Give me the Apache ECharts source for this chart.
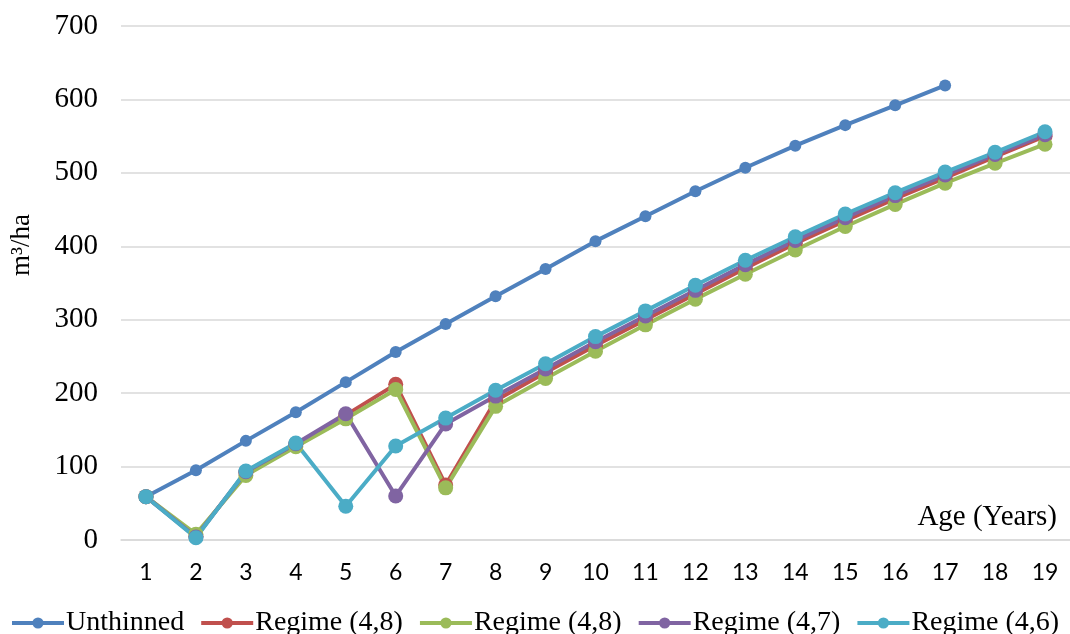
<!DOCTYPE html>
<html>
<head>
<meta charset="utf-8">
<script src="https://cdn.jsdelivr.net/npm/echarts@6/dist/echarts.min.js"></script>
<style>
  html, body { margin: 0; padding: 0; background: #fff; }
  #chart { width: 1070px; height: 634px; }
</style>
</head>
<body>
<div id="chart"></div>
<script>
const ages = ['1', '2', '3', '4', '5', '6', '7', '8', '9', '10', '11', '12', '13', '14', '15', '16', '17', '18', '19']

const unthinned = [59, 95, 135, 174, 215, 256, 294, 332, 369, 407, 441, 475, 507, 537, 565, 592, 619, null, null]
const regime48a = [59, 5, 92, 130, 170, 212, 75, 190, 228, 265, 300, 335, 370, 404, 435, 465, 493, 522, 550]
const regime48b = [59, 8, 88, 127, 165, 205, 71, 182, 220, 257, 293, 328, 362, 395, 427, 457, 486, 513, 539]
const regime47 = [59, 4, 93, 131, 172, 60, 158, 196, 233, 270, 305, 340, 375, 408, 439, 469, 497, 525, 552]
const regime46 = [59, 3, 94, 132, 46, 128, 166, 204, 240, 277, 312, 347, 381, 413, 444, 473, 501, 528, 556]

const seriesNames = ['Unthinned', 'Regime (4,8)', 'Regime (4,8) ', 'Regime (4,7)', 'Regime (4,6)']
const seriesColors = ['#4f81bd', '#c0504d', '#9bbb59', '#8064a2', '#4bacc6']
const seriesData = [unthinned, regime48a, regime48b, regime47, regime46]

const chart = echarts.init(document.getElementById('chart'))

const serif = '"Liberation Serif", "Times New Roman", serif'

const series = seriesData.map((d, i) => ({
  name: seriesNames[i],
  type: 'line',
  data: d,
  symbol: 'circle',
  symbolSize: i === 0 ? 12 : 15,
  lineStyle: { width: 4, color: seriesColors[i] },
  itemStyle: { color: seriesColors[i] },
  animation: false
}))

const option = {
  grid: {
    left: 121,
    right: -2,
    top: 26,
    bottom: 94
  },
  legend: {
    bottom: -3,
    left: 10,
    right: 0,
    padding: 0,
    itemWidth: 52,
    itemHeight: 14,
    itemGap: 15,
    lineStyle: { width: 4 },
    textStyle: {
      fontFamily: serif,
      fontSize: 28,
      color: '#000',
      padding: [0, 0, 0, -3]
    },
    formatter: function (name) {
      return name.trim()
    },
    data: seriesNames
  },
  xAxis: {
    type: 'category',
    data: ages,
    boundaryGap: true,
    axisLine: { lineStyle: { color: '#d9d9d9', width: 1.5 } },
    axisTick: { show: false },
    axisLabel: {
      fontFamily: 'Lato, "Open Sans", sans-serif',
      fontSize: 23,
      color: '#000',
      margin: 21
    }
  },
  yAxis: {
    type: 'value',
    min: 0,
    max: 700,
    interval: 100,
    axisLine: { show: false },
    axisTick: { show: false },
    splitLine: { lineStyle: { color: '#d9d9d9', width: 1.5 } },
    axisLabel: {
      fontFamily: serif,
      fontSize: 29,
      color: '#000',
      margin: 23
    }
  },
  graphic: [
    {
      type: 'text',
      right: 13,
      top: 503,
      style: {
        text: 'Age (Years)',
        font: '29px ' + serif,
        fill: '#000'
      }
    },
    {
      type: 'text',
      x: 22,
      y: 245,
      rotation: Math.PI / 2,
      style: {
        text: 'm³/ha',
        font: '27px ' + serif,
        fill: '#000',
        align: 'center',
        verticalAlign: 'middle'
      }
    }
  ],
  series: series
}

chart.setOption(option)
</script>
</body>
</html>
